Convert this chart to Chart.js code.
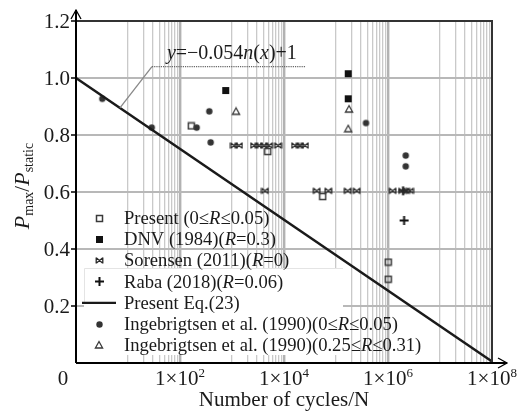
<!DOCTYPE html>
<html><head><meta charset="utf-8">
<script src="https://cdn.jsdelivr.net/npm/chart.js@4/dist/chart.umd.min.js"></script>
<style>html,body{margin:0;padding:0;background:#fff;}#wrap{width:519px;height:415px;}</style>
</head><body><div id="wrap"><canvas id="c" width="519" height="415"></canvas></div>
<script>
// ---------- data ----------
const presentX = [165, 4860, 55500, 1.01e6, 1.01e6];
const presentY = [0.832, 0.742, 0.584, 0.354, 0.294];
const dnvX = [757, 1.72e5, 1.72e5];
const dnvY = [0.956, 1.015, 0.927];
const sorensenX = [1090, 1360, 2650, 3300, 4130, 5150, 7670, 16300, 20300, 25300,
                   4310, 42600, 71100, 1.68e5, 2.5e5, 1.23e6, 1.86e6, 2.22e6, 2.65e6];
const sorensenY = [0.763, 0.763, 0.763, 0.763, 0.763, 0.763, 0.763, 0.763, 0.763, 0.763,
                   0.604, 0.604, 0.604, 0.604, 0.604, 0.604, 0.604, 0.604, 0.604];
const rabaX = [2.04e6, 1.95e6];
const rabaY = [0.5, 0.604];
const eqX = [1, 1e8];
const eqY = [1.0, 0.005];
const ingeAX = [3.2, 28.6, 209, 366, 389, 3.77e5, 2.19e6, 2.19e6];
const ingeAY = [0.927, 0.826, 0.826, 0.883, 0.774, 0.842, 0.728, 0.690];
const ingeBX = [1194, 1.78e5, 1.72e5];
const ingeBY = [0.883, 0.891, 0.822];

const legendLabels = [
  "Present (0≤R≤0.05)",
  "DNV (1984)(R=0.3)",
  "Sorensen (2011)(R=0)",
  "Raba (2018)(R=0.06)",
  "Present Eq.(23)",
  "Ingebrigtsen et al. (1990)(0≤R≤0.05)",
  "Ingebrigtsen et al. (1990)(0.25≤R≤0.31)"
];
const yTickValues = [0.2, 0.4, 0.6, 0.8, 1.0, 1.2];
const yTickLabels = ["0.2", "0.4", "0.6", "0.8", "1.0", "1.2"];
const xTickValues = [1e2, 1e4, 1e6, 1e8];
const xTickExps = ["2", "4", "6", "8"];
const xOriginLabel = "0";
const xTitle = "Number of cycles/N";
const eqText = [["y", true], ["=−0.054", false], ["n", true], ["(", false], ["x", true], [")+1", false]];
// annotation anchor (on the regression line), elbow and end in data units
const annAnchor = {x: 7, y: 0.895};
const annElbow = {x: 28.9, y: 1.04};
const annEndX = 2.65e4;
const annTextPos = {x: 56, y: 1.065};

// ---------- helpers ----------
const SERIF = '"Liberation Serif","Times New Roman",serif';
const pts = (xs, ys) => xs.map((x, i) => ({x, y: ys[i]}));
function mk(w, h, fn) { const c = document.createElement('canvas'); c.width = w; c.height = h; fn(c.getContext('2d')); return c; }
const imgOpenSq = mk(9, 9, g => { g.strokeStyle = '#3a3a3a'; g.lineWidth = 1.5; g.strokeRect(1.5, 1.5, 6, 6); });
const imgFillSq = mk(9, 9, g => { g.fillStyle = '#111'; g.fillRect(1, 1, 7, 7); });
const imgBow = mk(9, 9, g => { g.strokeStyle = '#2a2a2a'; g.lineWidth = 1.3;
  g.beginPath(); g.moveTo(1.5, 2); g.lineTo(7.5, 7); g.moveTo(1.5, 7); g.lineTo(7.5, 2);
  g.moveTo(1.2, 1.5); g.lineTo(1.2, 7.5); g.moveTo(7.8, 1.5); g.lineTo(7.8, 7.5); g.stroke(); });
const imgPlus = mk(11, 11, g => { g.strokeStyle = '#111'; g.lineWidth = 2;
  g.beginPath(); g.moveTo(5.5, 1); g.lineTo(5.5, 10); g.moveTo(1, 5.5); g.lineTo(10, 5.5); g.stroke(); });
const imgCirc = mk(9, 9, g => { g.fillStyle = '#333'; g.beginPath(); g.arc(4.5, 4.5, 3.2, 0, Math.PI * 2); g.fill(); });
const imgTri = mk(10, 10, g => { g.strokeStyle = '#3a3a3a'; g.lineWidth = 1.3;
  g.beginPath(); g.moveTo(5, 1.5); g.lineTo(8.6, 8); g.lineTo(1.4, 8); g.closePath(); g.stroke(); });

function fnt(s) { return (s.italic ? 'italic ' : '') + s.size + 'px ' + SERIF; }
function richW(ctx, segs) { let w = 0; for (const s of segs) { ctx.font = fnt(s); w += ctx.measureText(s.t).width; } return w; }
function drawRich(ctx, segs, x, y, align) {
  const w = richW(ctx, segs);
  let cx = align === 'center' ? x - w / 2 : align === 'right' ? x - w : x;
  ctx.textAlign = 'left'; ctx.textBaseline = 'alphabetic';
  for (const s of segs) { ctx.font = fnt(s); ctx.fillText(s.t, cx, y + (s.dy || 0)); cx += ctx.measureText(s.t).width; }
}
function legendSegs(str) {
  const parts = str.split(/(R)(?=[=≤])/);
  return parts.filter(p => p.length).map(p => ({t: p, italic: p === 'R', size: 18.6}));
}

// x grid: all decades, minor lines only in odd decades (as in reference)
const xGrid = [];
for (let e = 0; e <= 8; e++) {
  xGrid.push(Math.pow(10, e));
  if (e % 2 === 1 && e < 8) for (let m = 2; m <= 9; m++) xGrid.push(m * Math.pow(10, e));
}
const majorX = [1e2, 1e4, 1e6];
const isMajor = v => majorX.some(m => Math.abs(v / m - 1) < 1e-6);

const deco = {
  id: 'deco',
  beforeDatasetsDraw(chart) {
    const {ctx, chartArea: a} = chart;
    ctx.save();
    ctx.fillStyle = '#fff';
    const bx = a.left + 8, by = 268, bw = 343 - bx, bh = a.bottom - 8 - by;
    ctx.fillRect(bx, by, bw, bh);
    ctx.strokeStyle = '#e4e4e4'; ctx.lineWidth = 1;
    ctx.beginPath(); ctx.moveTo(bx + 0.5, by + bh * 0.4); ctx.lineTo(bx + 0.5, by + 0.5); ctx.lineTo(bx + bw, by + 0.5); ctx.stroke();
    ctx.restore();
  },
  afterDatasetsDraw(chart) {
    const {ctx, chartArea: a, scales: {x, y}} = chart;
    ctx.save();
    // frame
    ctx.strokeStyle = '#333'; ctx.lineWidth = 2;
    ctx.beginPath(); ctx.moveTo(a.left, a.top); ctx.lineTo(a.right, a.top); ctx.lineTo(a.right, a.bottom); ctx.stroke();
    ctx.strokeStyle = '#000'; ctx.lineWidth = 2;
    ctx.beginPath(); ctx.moveTo(a.left, a.bottom); ctx.lineTo(a.left, a.top - 11);
    ctx.moveTo(a.left, a.bottom); ctx.lineTo(a.right + 15, a.bottom); ctx.stroke();
    ctx.lineWidth = 1.3;
    ctx.beginPath(); ctx.moveTo(a.left - 5, a.top - 2); ctx.lineTo(a.left, a.top - 11); ctx.lineTo(a.left + 5, a.top - 2);
    ctx.moveTo(a.right + 6, a.bottom - 5); ctx.lineTo(a.right + 15, a.bottom); ctx.lineTo(a.right + 6, a.bottom + 5); ctx.stroke();
    // y ticks + labels
    ctx.fillStyle = '#1a1a1a'; ctx.strokeStyle = '#000'; ctx.lineWidth = 1.5;
    yTickValues.forEach((v, i) => {
      const py = y.getPixelForValue(v);
      ctx.beginPath(); ctx.moveTo(a.left - 5, py); ctx.lineTo(a.left, py); ctx.stroke();
      ctx.font = '21px ' + SERIF; ctx.textAlign = 'right'; ctx.textBaseline = 'alphabetic';
      ctx.fillText(yTickLabels[i], a.left - 6, py + 7);
    });
    // x labels
    ctx.font = '21px ' + SERIF; ctx.textAlign = 'center';
    ctx.fillText(xOriginLabel, a.left - 13, a.bottom + 22);
    xTickValues.forEach((v, i) => {
      const px = x.getPixelForValue(v);
      drawRich(ctx, [{t: '1×10', size: 21}, {t: xTickExps[i], size: 13, dy: -8}], px, a.bottom + 22, 'center');
    });
    // x title
    ctx.font = '21px ' + SERIF; ctx.textAlign = 'center';
    ctx.fillText(xTitle, (a.left + a.right) / 2, 406);
    // y title (rotated)
    ctx.save();
    ctx.translate(29, (a.top + a.bottom) / 2 - 6);
    ctx.rotate(-Math.PI / 2);
    drawRich(ctx, [{t: 'P', italic: true, size: 22}, {t: 'max', size: 14, dy: 4}, {t: '/', size: 21},
                   {t: 'P', italic: true, size: 22}, {t: 'static', size: 14, dy: 4}], 0, 0, 'center');
    ctx.restore();
    // annotation
    const ax = x.getPixelForValue(annAnchor.x), ay = y.getPixelForValue(annAnchor.y);
    const ex = x.getPixelForValue(annElbow.x), ey = y.getPixelForValue(annElbow.y);
    const endx = x.getPixelForValue(annEndX);
    ctx.strokeStyle = '#888'; ctx.lineWidth = 1.3;
    ctx.beginPath(); ctx.moveTo(ax, ay); ctx.lineTo(ex, ey); ctx.stroke();
    ctx.strokeStyle = '#666'; ctx.lineWidth = 1.2; ctx.setLineDash([1.2, 1]);
    ctx.beginPath(); ctx.moveTo(ex, ey); ctx.lineTo(endx, ey); ctx.stroke();
    ctx.setLineDash([]);
    ctx.fillStyle = '#1a1a1a';
    drawRich(ctx, eqText.map(([t, it]) => ({t, italic: it, size: 20})),
             x.getPixelForValue(annTextPos.x), y.getPixelForValue(annTextPos.y), 'left');
    // legend
    const imgs = [imgOpenSq, imgFillSq, imgBow, imgPlus, null, imgCirc, imgTri];
    const mx = a.left + 23, tx = a.left + 48;
    legendLabels.forEach((lab, i) => {
      const ry = a.top + 197 + i * 21.2;
      if (imgs[i]) ctx.drawImage(imgs[i], Math.round(mx - imgs[i].width / 2), Math.round(ry - imgs[i].height / 2));
      else { ctx.strokeStyle = '#1a1a1a'; ctx.lineWidth = 2.2; ctx.beginPath(); ctx.moveTo(a.left + 6, ry); ctx.lineTo(a.left + 40, ry); ctx.stroke(); }
      ctx.fillStyle = '#1a1a1a';
      drawRich(ctx, legendSegs(lab), tx, ry + 6, 'left');
    });
    ctx.restore();
  }
};

new Chart(document.getElementById('c'), {
  type: 'scatter',
  data: {
    datasets: [
      {label: legendLabels[0], data: pts(presentX, presentY), pointStyle: imgOpenSq},
      {label: legendLabels[1], data: pts(dnvX, dnvY), pointStyle: imgFillSq},
      {label: legendLabels[2], data: pts(sorensenX, sorensenY), pointStyle: imgBow},
      {label: legendLabels[3], data: pts(rabaX, rabaY), pointStyle: imgPlus},
      {label: legendLabels[4], type: 'line', data: pts(eqX, eqY), borderColor: '#1a1a1a', borderWidth: 2.4, pointRadius: 0, fill: false, tension: 0},
      {label: legendLabels[5], data: pts(ingeAX, ingeAY), pointStyle: imgCirc},
      {label: legendLabels[6], data: pts(ingeBX, ingeBY), pointStyle: imgTri}
    ]
  },
  options: {
    responsive: false, animation: false, devicePixelRatio: 1,
    layout: {padding: {left: 76, right: 27, top: 21, bottom: 52}},
    plugins: {legend: {display: false}, tooltip: {enabled: false}},
    scales: {
      x: {type: 'logarithmic', min: 1, max: 1e8,
          afterBuildTicks: s => { s.ticks = xGrid.map(v => ({value: v})); },
          ticks: {display: false, autoSkip: false},
          border: {display: false},
          grid: {drawTicks: false,
                 color: c => (c.tick.value <= 1 || c.tick.value >= 1e8) ? 'rgba(0,0,0,0)' : (isMajor(c.tick.value) ? '#b2b2b2' : '#c9c9c9'),
                 lineWidth: c => isMajor(c.tick.value) ? 2.4 : 1.3}},
      y: {min: 0, max: 1.2,
          ticks: {display: false, stepSize: 0.2},
          border: {display: false},
          grid: {drawTicks: false,
                 color: c => (c.tick.value < 0.1 || c.tick.value > 1.1) ? 'rgba(0,0,0,0)' : '#b8b8b8',
                 lineWidth: 2}}
    }
  },
  plugins: [deco]
});
</script></body></html>
